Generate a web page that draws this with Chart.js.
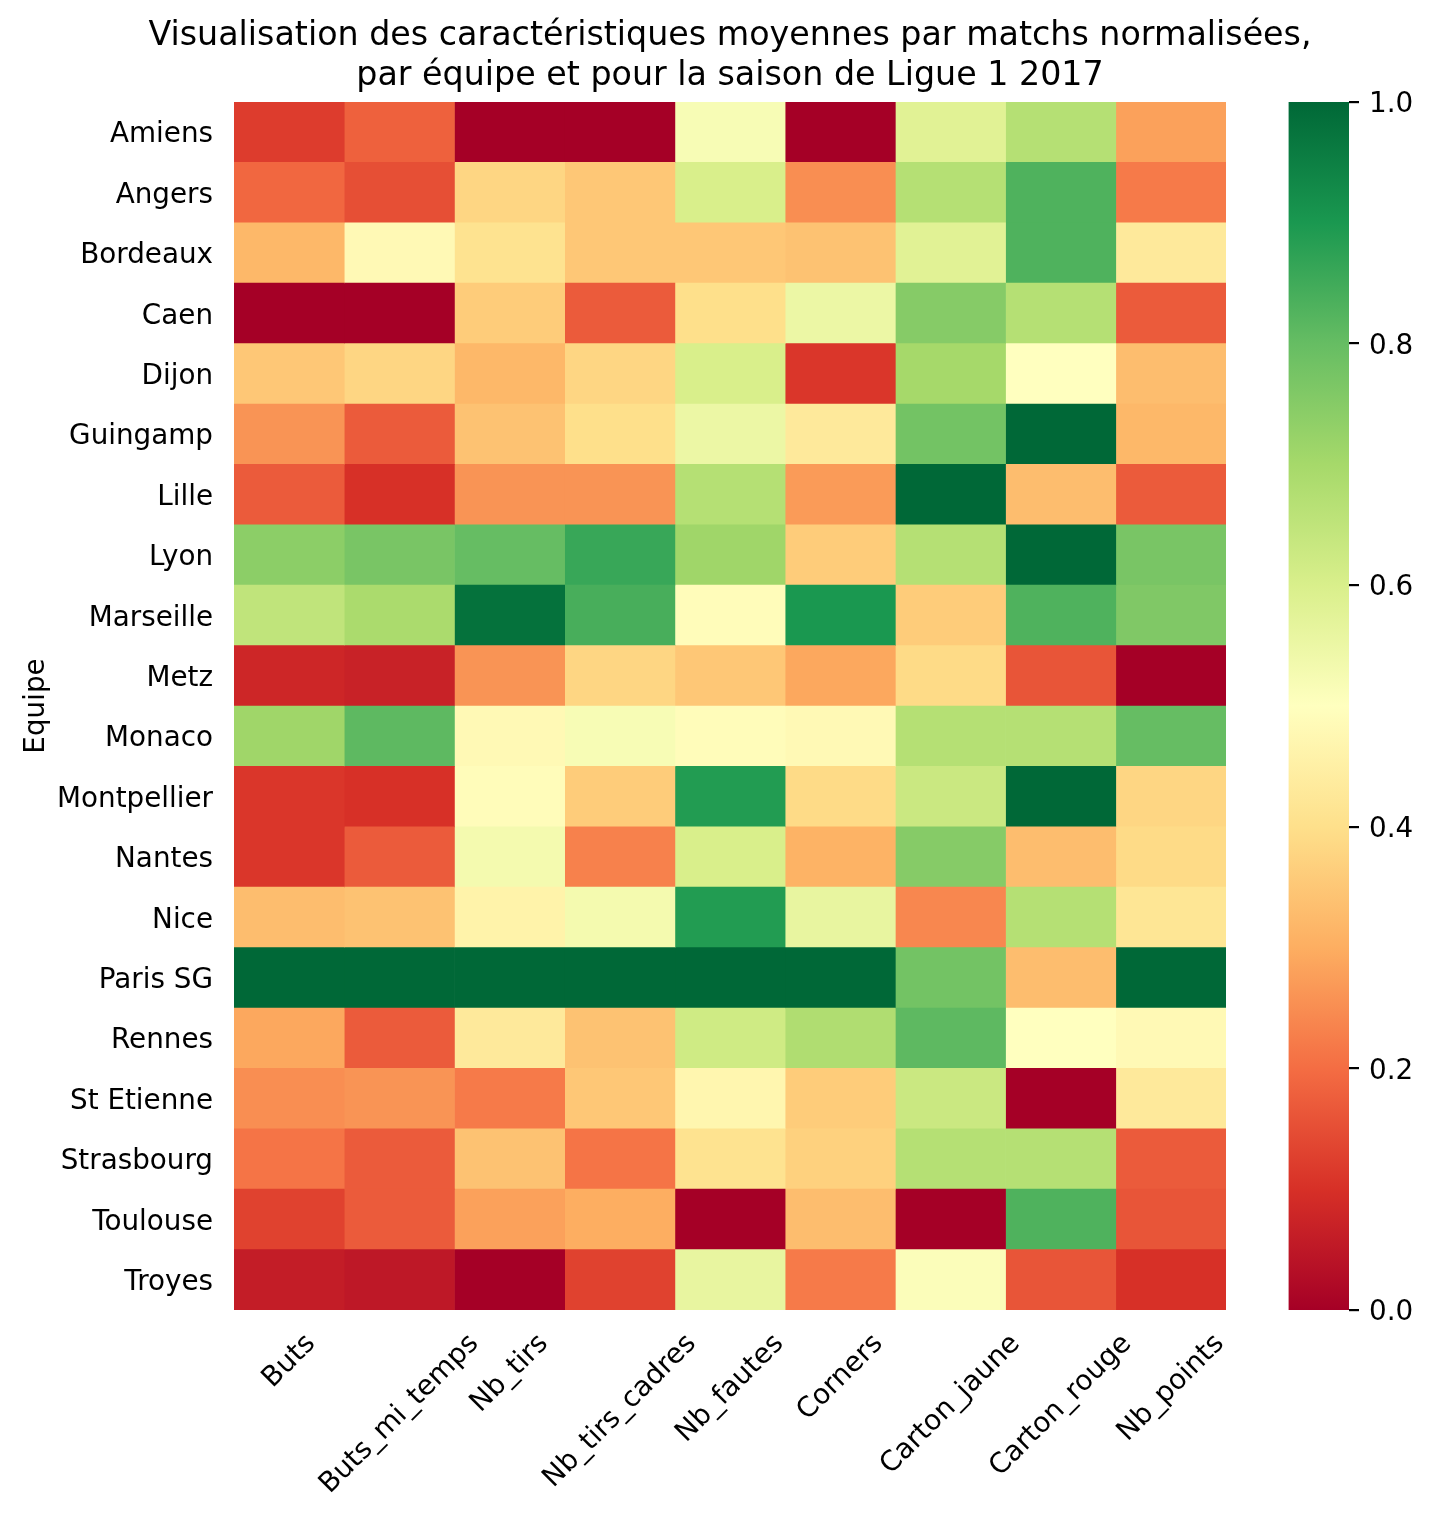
<!DOCTYPE html>
<html lang="fr">
<head>
    <meta charset="UTF-8">
    <title>Ligue 1 2017 - heatmap</title>
    <script src="https://cdn.jsdelivr.net/npm/chart.js"></script>
    <style>
        body { margin: 0; background: #fff; }
        canvas { display: block; }
    </style>
</head>
<body>
    <canvas id="myChart" width="1432" height="1521"></canvas>
    <script>
        // Equipes (lignes) et caracteristiques (colonnes)
        const teams = ['Amiens', 'Angers', 'Bordeaux', 'Caen', 'Dijon', 'Guingamp', 'Lille', 'Lyon', 'Marseille', 'Metz',
            'Monaco', 'Montpellier', 'Nantes', 'Nice', 'Paris SG', 'Rennes', 'St Etienne', 'Strasbourg', 'Toulouse', 'Troyes'];
        const columns = ['Buts', 'Buts_mi_temps', 'Nb_tirs', 'Nb_tirs_cadres', 'Nb_fautes', 'Corners', 'Carton_jaune', 'Carton_rouge', 'Nb_points'];

        // valeurs normalisees, une liste par colonne (ordre des equipes)
        const buts         = [0.12, 0.19, 0.32, 0.00, 0.35, 0.26, 0.17, 0.74, 0.65, 0.08, 0.71, 0.11, 0.11, 0.33, 1.00, 0.29, 0.25, 0.21, 0.13, 0.06];
        const butsMiTemps  = [0.18, 0.15, 0.48, 0.00, 0.38, 0.17, 0.10, 0.77, 0.69, 0.07, 0.81, 0.10, 0.17, 0.34, 1.00, 0.17, 0.26, 0.17, 0.17, 0.05];
        const nbTirs       = [0.00, 0.38, 0.41, 0.36, 0.32, 0.34, 0.26, 0.80, 0.98, 0.26, 0.48, 0.49, 0.53, 0.46, 1.00, 0.43, 0.22, 0.34, 0.28, 0.00];
        const nbTirsCadres = [0.00, 0.35, 0.35, 0.17, 0.38, 0.40, 0.26, 0.86, 0.84, 0.38, 0.52, 0.36, 0.23, 0.53, 1.00, 0.34, 0.35, 0.21, 0.30, 0.13];
        const nbFautes     = [0.52, 0.60, 0.35, 0.40, 0.60, 0.55, 0.67, 0.71, 0.49, 0.35, 0.49, 0.89, 0.60, 0.89, 1.00, 0.62, 0.47, 0.41, 0.00, 0.56];
        const corners      = [0.00, 0.25, 0.34, 0.55, 0.11, 0.43, 0.27, 0.36, 0.90, 0.29, 0.48, 0.39, 0.31, 0.56, 1.00, 0.68, 0.36, 0.37, 0.33, 0.22];
        const cartonJaune  = [0.58, 0.67, 0.58, 0.75, 0.70, 0.78, 1.00, 0.67, 0.36, 0.39, 0.67, 0.63, 0.75, 0.24, 0.78, 0.81, 0.63, 0.67, 0.00, 0.51];
        const cartonRouge  = [0.67, 0.83, 0.83, 0.67, 0.50, 1.00, 0.33, 1.00, 0.83, 0.16, 0.67, 1.00, 0.33, 0.67, 0.33, 0.50, 0.00, 0.67, 0.83, 0.16];
        const nbPoints     = [0.28, 0.22, 0.43, 0.17, 0.33, 0.32, 0.17, 0.77, 0.76, 0.00, 0.80, 0.38, 0.39, 0.42, 1.00, 0.48, 0.43, 0.17, 0.16, 0.10];

        const series = [buts, butsMiTemps, nbTirs, nbTirsCadres, nbFautes, corners, cartonJaune, cartonRouge, nbPoints];
        const cbarTicks = [0, 0.2, 0.4, 0.6, 0.8, 1.0];
        const titleLines = ['Visualisation des caractéristiques moyennes par matchs normalisées,',
                            'par équipe et pour la saison de Ligue 1 2017'];

        // palette RdYlGn (11 couleurs)
        const RDYLGN = ['#a50026', '#d73027', '#f46d43', '#fdae61', '#fee08b', '#ffffbf', '#d9ef8b', '#a6d96a', '#66bd63', '#1a9850', '#006837'];

        function hexToRgb(h) {
            return [parseInt(h.substr(1, 2), 16), parseInt(h.substr(3, 2), 16), parseInt(h.substr(5, 2), 16)];
        }

        function rdylgn(v) {
            v = Math.max(0, Math.min(1, v));
            const pos = v * (RDYLGN.length - 1);
            const i = Math.min(Math.floor(pos), RDYLGN.length - 2);
            const t = pos - i;
            const a = hexToRgb(RDYLGN[i]);
            const b = hexToRgb(RDYLGN[i + 1]);
            const c = a.map((x, k) => Math.round(x + (b[k] - x) * t));
            return 'rgb(' + c.join(',') + ')';
        }

        const FONT = 'DejaVu Sans';
        const TICK_SIZE = 27.8;
        const TITLE_SIZE = 33.3;
        Chart.defaults.font.family = FONT;
        Chart.defaults.font.size = TICK_SIZE;
        Chart.defaults.color = '#000';

        const datasets = columns.map((name, j) => ({
            label: name,
            data: teams.map(() => 1),
            backgroundColor: series[j].map(rdylgn),
            borderWidth: 0,
            barPercentage: 1,
            categoryPercentage: 1
        }));

        // titre sur deux lignes, centre sur la zone du graphe
        const titlePlugin = {
            id: 'titre',
            afterDraw(chart) {
                const ctx = chart.ctx;
                const area = chart.chartArea;
                const cx = (area.left + area.right) / 2;
                ctx.save();
                ctx.font = TITLE_SIZE + 'px "' + FONT + '"';
                ctx.fillStyle = '#000';
                ctx.textAlign = 'center';
                ctx.textBaseline = 'middle';
                titleLines.forEach((line, i) => {
                    ctx.fillText(line, cx, 36 + i * TITLE_SIZE * 1.2);
                });
                ctx.restore();
            }
        };

        // etiquettes x tournees a 45 degres, centrees sur la colonne
        const xLabelsPlugin = {
            id: 'xLabels',
            afterDraw(chart) {
                const ctx = chart.ctx;
                const x = chart.scales.x;
                const top = chart.chartArea.bottom + 19.4;
                ctx.save();
                ctx.font = TICK_SIZE + 'px "' + FONT + '"';
                ctx.fillStyle = '#000';
                ctx.textAlign = 'center';
                ctx.textBaseline = 'alphabetic';
                columns.forEach((name, i) => {
                    const w = ctx.measureText(name).width;
                    const h = TICK_SIZE;
                    const cx = x.getPixelForValue(i + 0.5);
                    const cy = top + (w + h) / (2 * Math.SQRT2);
                    ctx.save();
                    ctx.translate(cx, cy);
                    ctx.rotate(-Math.PI / 4);
                    ctx.fillText(name, 0, 0.27 * h);
                    ctx.restore();
                });
                ctx.restore();
            }
        };

        // barre de couleur
        const colorbarPlugin = {
            id: 'colorbar',
            afterDraw(chart) {
                const ctx = chart.ctx;
                const cb = chart.scales.cbar;
                const gap = chart.scales.gap;
                const w = 60.4;
                const y0 = cb.getPixelForValue(0);
                const y1 = cb.getPixelForValue(1);
                const grad = ctx.createLinearGradient(0, y0, 0, y1);
                RDYLGN.forEach((c, i) => grad.addColorStop(i / (RDYLGN.length - 1), c));
                ctx.save();
                ctx.fillStyle = grad;
                ctx.fillRect(gap.right - w, y1, w, y0 - y1);
                ctx.restore();
            }
        };

        const config = {
            type: 'bar',
            data: {
                labels: teams,
                datasets: datasets
            },
            options: {
                indexAxis: 'y',
                responsive: false,
                animation: false,
                layout: { padding: { top: 102, left: 0, right: 0, bottom: 0 } },
                plugins: {
                    legend: { display: false },
                    tooltip: { enabled: false },
                    title: { display: false }
                },
                scales: {
                    x: {
                        type: 'linear',
                        stacked: true,
                        min: 0,
                        max: columns.length,
                        position: 'bottom',
                        grid: { display: false },
                        border: { display: false },
                        ticks: { display: false },
                        afterBuildTicks: (scale) => {
                            scale.ticks = columns.map((c, i) => ({ value: i + 0.5 }));
                        },
                        afterFit: (scale) => { scale.height = 211; }
                    },
                    y: {
                        stacked: true,
                        position: 'left',
                        grid: { display: false, offset: false, drawTicks: false },
                        border: { display: false },
                        ticks: { padding: 21, labelOffset: 3, font: { size: TICK_SIZE } },
                        title: {
                            display: true,
                            text: 'Equipe',
                            font: { size: TICK_SIZE, lineHeight: 1.2 },
                            padding: { top: 20, bottom: 0 }
                        },
                        afterFit: (scale) => { scale.width = 234; }
                    },
                    gap: {
                        type: 'linear',
                        axis: 'y',
                        position: 'right',
                        weight: 0,
                        offset: false,
                        grid: { display: false, offset: false },
                        border: { display: false },
                        ticks: { display: false },
                        afterFit: (scale) => { scale.width = 123; }
                    },
                    cbar: {
                        type: 'linear',
                        axis: 'y',
                        position: 'right',
                        weight: 1,
                        min: 0,
                        max: 1,
                        offset: false,
                        grid: {
                            offset: false,
                            drawOnChartArea: false,
                            drawTicks: true,
                            tickLength: 10,
                            color: '#000',
                            lineWidth: 2.2
                        },
                        border: { display: false },
                        ticks: {
                            padding: 10,
                            labelOffset: 3,
                            callback: (v) => Number(v).toFixed(1)
                        },
                        afterBuildTicks: (scale) => {
                            scale.ticks = cbarTicks.map(v => ({ value: v }));
                        },
                        afterFit: (scale) => { scale.width = 83; }
                    }
                }
            },
            plugins: [titlePlugin, xLabelsPlugin, colorbarPlugin]
        };

        window.onload = function() {
            const ctx = document.getElementById('myChart').getContext('2d');
            new Chart(ctx, config);
        };
    </script>
</body>
</html>
